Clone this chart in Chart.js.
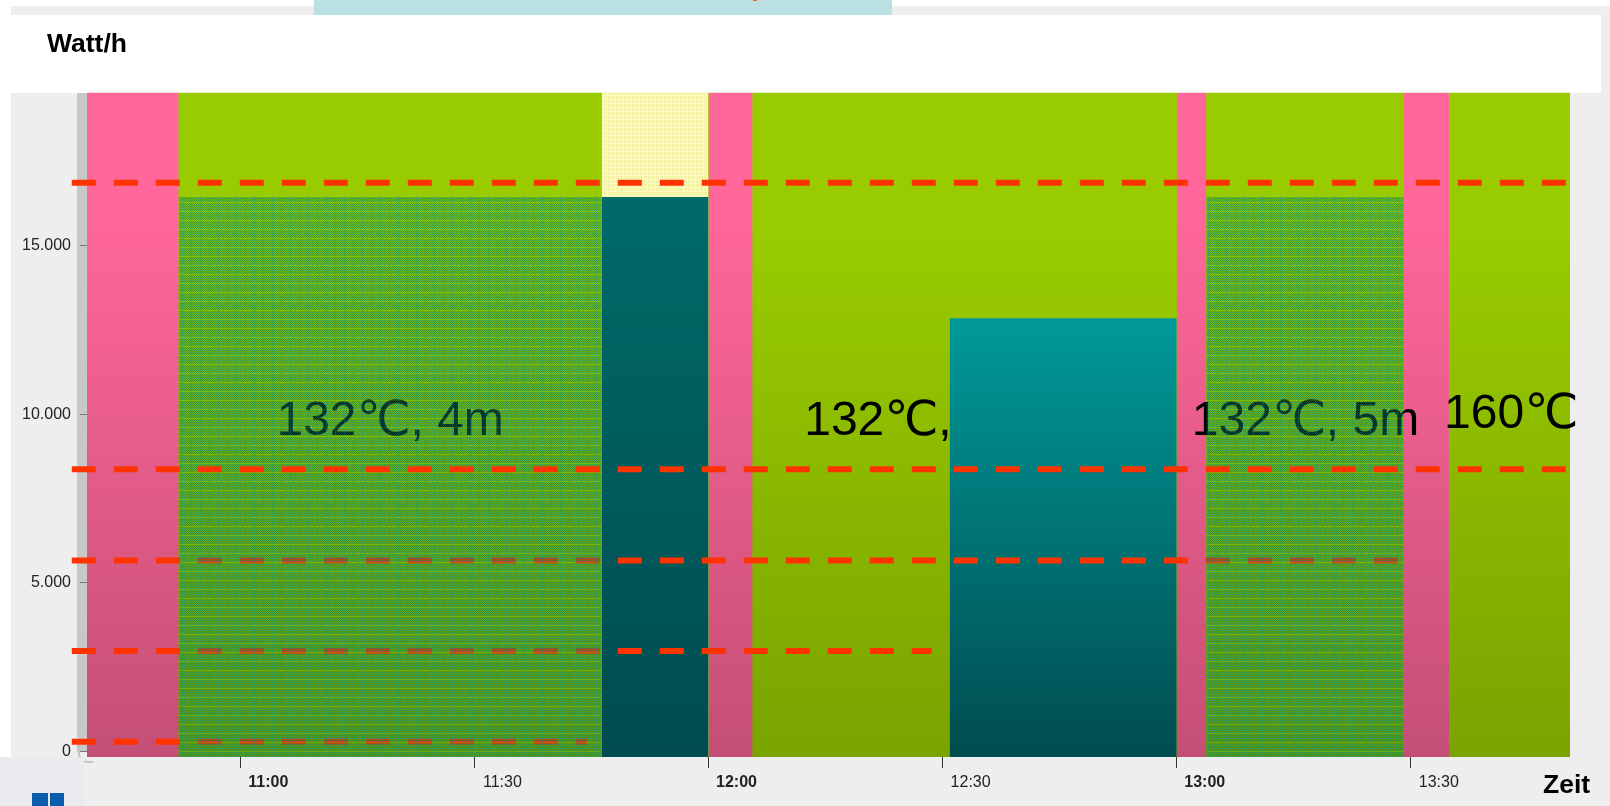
<!DOCTYPE html>
<html>
<head>
<meta charset="utf-8">
<script src="https://cdn.jsdelivr.net/npm/chart.js@4"></script>
<style>
    html, body { margin: 0; padding: 0; background: #fff; overflow: hidden; }
    #page { position: relative; width: 1610px; height: 806px; overflow: hidden; }
    .box { position: absolute; }
    #lineChart { position: absolute; left: 0; top: 0; z-index: 2; }
    .over { z-index: 3; }
</style>
</head>
<body>
<div id="page">
    <!-- window chrome around the plot -->
    <div class="box" style="left:11px;top:6px;width:1599px;height:800px;background:#eee"></div>
    <div class="box" style="left:314px;top:0;width:578px;height:15px;background:#bbe0e3"></div>
    <div class="box" style="left:753px;top:0;width:4px;height:1px;background:#ff5a30"></div>
    <div class="box" style="left:11px;top:15px;width:1590px;height:78px;background:#fff"></div>
    <div class="box" style="left:77px;top:93px;width:10px;height:659px;background:#c8c8c8"></div>
    <div class="box" style="left:78px;top:745px;width:13px;height:16px;border:solid #c4c4c4;border-width:0 0 2px 2px;border-bottom-left-radius:9px"></div>
    <canvas id="lineChart" width="1610" height="806"></canvas>
    <div class="box over" style="left:0;top:757px;width:84px;height:49px;background:#e9ebee"></div>
    <div class="box over" style="left:32px;top:793px;width:16px;height:13px;background:#0a5cad"></div>
    <div class="box over" style="left:50px;top:793px;width:14px;height:13px;background:#0a5cad"></div>
</div>
<script>
// Time is in minutes since midnight, power in Watt/h
const xMin = 640.35;
const xMax = 830.4;
const yMin = -160;
const yMax = 19532;

const xTickValues = [660, 690, 720, 750, 780, 810];
const yTickValues = [0, 5000, 10000, 15000];

const pinkBlocks = [[640.35, 652.1], [720, 725.65], [780, 783.8], [809.1, 814.9]];
const greenBlocks = [[652.1, 706.3], [725.65, 780], [783.8, 809.1], [814.9, 830.4]];
const yellowBlocks = [[706.3, 720]];
const hatchBlocks = [[652.1, 706.3], [783.8, 809.1]];
const hatchTop = 16434;
const darkTealBlocks = [[706.3, 720]];
const darkTealTop = 16434;
const tealBlocks = [[750.9, 780]];
const tealTop = 12840;

const upperLevels = [16855, 8367];
const upperEnds = [830.3, 830.3];
const lowerLevels = [5660, 2980, 290];
const lowerEnds = [808.4, 748.6, 704.4];
const levelStart = 638.4;

const noteTexts = ['132℃, 4m', '132℃,', '132℃, 5m', '160℃'];
const noteTimes = [679.2, 741.7, 796.5, 822.85];
const noteValues = [9765, 9765, 9765, 9980];

function formatTime(minutes) {
    const h = Math.floor(minutes / 60);
    const m = minutes % 60;
    return h + ':' + String(m).padStart(2, '0');
}

function formatPower(value) {
    return String(value).replace(/\B(?=(\d{3})+$)/g, '.');
}

// Vertical gradient between two axis values
function gradient(context, fromValue, startAt, top, bottom) {
    const chart = context.chart;
    if (!chart.chartArea) return top;
    const y0 = chart.scales.y.getPixelForValue(fromValue);
    const g = chart.ctx.createLinearGradient(0, y0, 0, chart.chartArea.bottom);
    g.addColorStop(0, top);
    g.addColorStop(startAt, top);
    g.addColorStop(1, bottom);
    return g;
}

// Small repeating tile, filled pixel by pixel
function makeTile(size, pick) {
    const tile = document.createElement('canvas');
    tile.width = size;
    tile.height = size;
    const c = tile.getContext('2d');
    for (let y = 0; y < size; y++) {
        for (let x = 0; x < size; x++) {
            c.fillStyle = pick(x, y);
            c.fillRect(x, y, 1, 1);
        }
    }
    return c.createPattern(tile, 'repeat');
}

function hatchPick(x, y) {
    if (y % 9 === 4) return 'rgba(100, 180, 20, 0.4)';
    if (x % 9 === 2) return 'rgba(0, 140, 130, 0.6)';
    return (x + y) % 2 === 0 ? 'rgba(0, 130, 110, 0.6)' : 'rgba(0, 130, 90, 0.25)';
}

function yellowPick(x, y) {
    if (x % 4 === 3 || y % 4 === 3) return '#fbf9c4';
    return '#f5f3a6';
}

const lineCanvas = document.getElementById('lineChart');
const ctx = lineCanvas.getContext('2d');
const hatchFill = makeTile(18, hatchPick);
const yellowFill = makeTile(8, yellowPick);

function blockDatasets(blocks, topValue, fill, order) {
    return blocks.map(b => ({
        type: 'line',
        data: [{ x: b[0], y: topValue }, { x: b[1], y: topValue }],
        fill: 'start',
        backgroundColor: fill,
        borderWidth: 0,
        pointRadius: 0,
        order: order
    }));
}

function levelDatasets(levels, ends, order) {
    return levels.map((level, i) => ({
        type: 'line',
        data: [{ x: levelStart, y: level }, { x: ends[i], y: level }],
        borderColor: '#ff3300',
        borderWidth: 6,
        borderDash: [24, 18],
        borderCapStyle: 'butt',
        pointRadius: 0,
        fill: false,
        clip: false,
        order: order
    }));
}

const pinkFill = c => gradient(c, yMax, 0.2, '#ff6699', '#c44f76');
const greenFill = c => gradient(c, yMax, 0.2, '#99cc00', '#7aa300');
const tealFill = c => gradient(c, tealTop, 0, '#009999', '#004c4f');
const darkTealFill = c => gradient(c, darkTealTop, 0, '#006a68', '#004c4f');

// Notes sit above the green and pink blocks but below the teal and hatched ones
const notesLayer = { type: 'line', data: [], notes: true, fill: false, order: 6 };

const datasets = [
    ...levelDatasets(upperLevels, upperEnds, 1),
    ...blockDatasets(hatchBlocks, hatchTop, hatchFill, 2),
    ...levelDatasets(lowerLevels, lowerEnds, 3),
    ...blockDatasets(darkTealBlocks, darkTealTop, darkTealFill, 4),
    ...blockDatasets(tealBlocks, tealTop, tealFill, 5),
    notesLayer,
    ...blockDatasets(pinkBlocks, yMax, pinkFill, 7),
    ...blockDatasets(greenBlocks, yMax, greenFill, 7),
    ...blockDatasets(yellowBlocks, yMax, yellowFill, 7),
    // sits under everything so the joins between blocks don't show the page through
    ...blockDatasets([[xMin, xMax]], yMax, greenFill, 8)
];

const notesPlugin = {
    id: 'notes',
    afterDatasetDraw(chart, args) {
        if (!chart.data.datasets[args.index].notes) return;
        const c = chart.ctx;
        c.save();
        c.font = '48px "Liberation Sans", "DejaVu Sans", sans-serif';
        c.fillStyle = '#000';
        c.textAlign = 'center';
        c.textBaseline = 'middle';
        noteTexts.forEach((text, i) => {
            c.fillText(text, chart.scales.x.getPixelForValue(noteTimes[i]), chart.scales.y.getPixelForValue(noteValues[i]));
        });
        c.restore();
    },
    afterDraw(chart) {
        const c = chart.ctx;
        c.save();
        c.font = 'bold 26.5px "Liberation Sans", sans-serif';
        c.fillStyle = '#000';
        c.textBaseline = 'middle';
        c.fillText('Watt/h', 47, 45);
        c.fillText('Zeit', 1543, 786);
        c.restore();
    }
};

const lineChart = new Chart(ctx, {
    type: 'line',
    data: { datasets: datasets },
    plugins: [notesPlugin],
    options: {
        responsive: false,
        animation: false,
        layout: { padding: { top: 92.5, right: 40, left: 0, bottom: 0 } },
        plugins: {
            legend: { display: false },
            tooltip: { enabled: false }
        },
        scales: {
            x: {
                type: 'linear',
                min: xMin,
                max: xMax,
                afterFit: scale => { scale.height = 49; },
                afterBuildTicks: scale => { scale.ticks = xTickValues.map(v => ({ value: v })); },
                border: { display: false },
                grid: { drawOnChartArea: false, tickLength: 11, tickColor: '#333', tickWidth: 1 },
                ticks: {
                    autoSkip: false,
                    maxRotation: 0,
                    labelOffset: 28,
                    padding: 5,
                    color: '#222',
                    font: c => ({
                        family: '"Liberation Sans", sans-serif',
                        size: 16,
                        weight: c.tick && c.tick.value % 60 === 0 ? 'bold' : 'normal'
                    }),
                    callback: value => formatTime(value)
                }
            },
            y: {
                type: 'linear',
                min: yMin,
                max: yMax,
                afterFit: scale => { scale.width = 87; },
                afterBuildTicks: scale => { scale.ticks = yTickValues.map(v => ({ value: v })); },
                border: { display: false },
                grid: { drawOnChartArea: false, tickLength: 7, tickColor: '#777', tickWidth: 1 },
                ticks: {
                    padding: 9,
                    color: '#222',
                    font: { family: '"Liberation Sans", sans-serif', size: 16 },
                    callback: value => formatPower(value)
                }
            }
        }
    }
});
</script>
</body>
</html>
